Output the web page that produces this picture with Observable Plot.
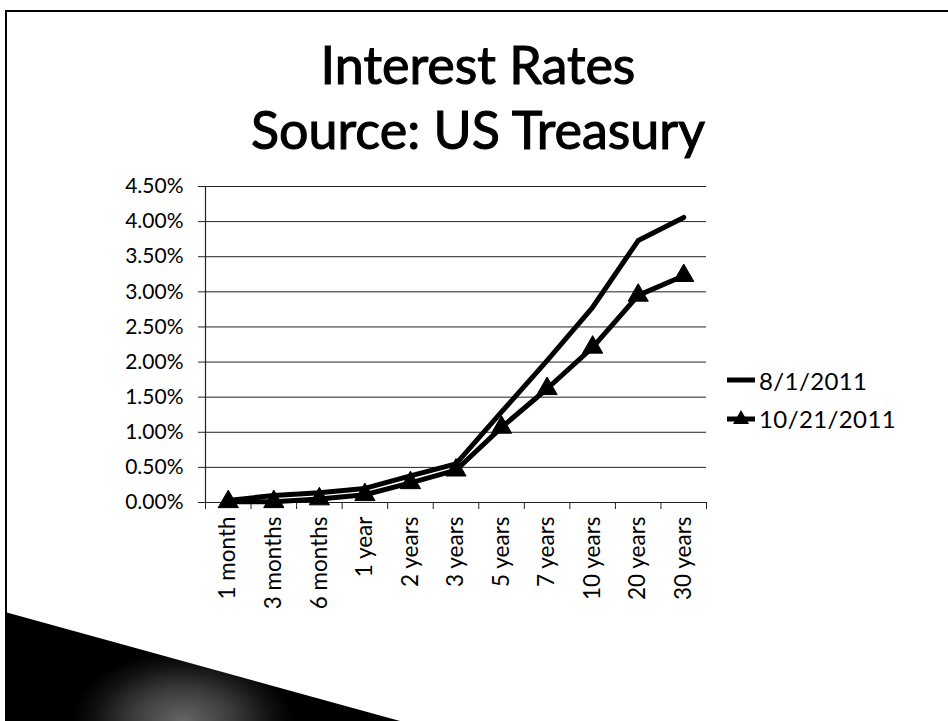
<!DOCTYPE html>
<html>
<head>
<meta charset="utf-8">
<script src="https://cdn.jsdelivr.net/npm/d3@7"></script>
<script src="https://cdn.jsdelivr.net/npm/@observablehq/plot@0.6"></script>
<style>
  html, body { margin: 0; padding: 0; background: #fff; }
  #page { position: relative; width: 948px; height: 721px; overflow: hidden; font-family: Lato, "Open Sans", sans-serif; color: #000; }
  #frame { position: absolute; left: 5px; top: 10px; right: -4px; bottom: -4px; border-top: 2px solid #000; border-left: 2px solid #000; }
  .title { position: absolute; left: 0; width: 956px; text-align: center; font-size: 52px; line-height: 60px; font-weight: 400; -webkit-text-stroke: 1.1px #000; }
  #chart { position: absolute; left: 0; top: 160px; }
  #legend { position: absolute; left: 725px; top: 361px; font-size: 24px; letter-spacing: 0.4px; }
  #legend .item { display: flex; align-items: center; height: 38px; }
  #legend svg { margin-right: 2px; }
  #wedge { position: absolute; left: 5px; top: 612px; width: 395px; height: 109px;
    clip-path: polygon(0 0, 100% 100%, 0 100%);
    background: radial-gradient(ellipse 110px 70px at 45% 100%, #666 0%, #3c3c3c 45%, #111 80%, #000 100%); }
</style>
</head>
<body>
<div id="page">
  <div id="frame"></div>
  <div class="title" style="top:34px">Interest Rates</div>
  <div class="title" style="top:99px">Source: US Treasury</div>
  <div id="chart"></div>
  <div id="legend"></div>
  <div id="wedge"></div>
</div>
<script>
// Maturities (categories)
const categories = ["1 month", "3 months", "6 months", "1 year", "2 years", "3 years", "5 years", "7 years", "10 years", "20 years", "30 years"];
// Series names
const seriesNames = ["8/1/2011", "10/21/2011"];
// Yields in percent
const rates_2011_08_01 = [0.03, 0.10, 0.14, 0.20, 0.38, 0.55, 1.29, 2.02, 2.78, 3.73, 4.06];
const rates_2011_10_21 = [0.01, 0.01, 0.05, 0.11, 0.28, 0.46, 1.07, 1.62, 2.21, 2.95, 3.23];
// Y tick values (percent)
const yTicks = [0, 0.5, 1, 1.5, 2, 2.5, 3, 3.5, 4, 4.5];

const idx = d3.range(categories.length);
const boundaries = d3.range(categories.length + 1).map(i => i - 0.5);
const rows = [
  ...idx.map(i => ({i, cat: categories[i], value: rates_2011_08_01[i], series: seriesNames[0]})),
  ...idx.map(i => ({i, cat: categories[i], value: rates_2011_10_21[i], series: seriesNames[1]}))
];
const s1 = rows.filter(d => d.series === seriesNames[0]);
const s2 = rows.filter(d => d.series === seriesNames[1]);

const chart = Plot.plot({
  width: 948,
  height: 500,
  marginLeft: 205,
  marginRight: 242,
  marginTop: 26,
  marginBottom: 158,
  style: {fontFamily: "Lato, 'Open Sans', sans-serif", fontSize: "21px", color: "#000", background: "transparent", overflow: "visible"},
  x: {type: "linear", domain: [-0.5, categories.length - 0.5], label: null},
  y: {domain: [0, 4.5], label: null},
  marks: [
    Plot.gridY(yTicks, {stroke: "#222", strokeOpacity: 1, strokeWidth: 1}),
    Plot.axisY({ticks: yTicks, tickSize: 7, tickPadding: 15, stroke: "#222", strokeWidth: 1,
      tickFormat: d => d.toFixed(2) + "%", fontSize: 21, label: null}),
    Plot.axisX({ticks: boundaries, tickSize: 7, tickFormat: () => "", stroke: "#222", label: null}),
    Plot.axisX({ticks: idx, tickSize: 0, tickPadding: 14, tickRotate: -90,
      tickFormat: i => categories[i], fontSize: 22.5, label: null}),
    Plot.ruleX([-0.5], {stroke: "#222", strokeWidth: 1.2}),
    Plot.ruleY([0], {stroke: "#222", strokeWidth: 1.2}),
    Plot.line(s1, {x: "i", y: "value", stroke: "#000", strokeWidth: 5, strokeLinejoin: "round", strokeLinecap: "round"}),
    Plot.line(s2, {x: "i", y: "value", stroke: "#000", strokeWidth: 5, strokeLinejoin: "round", strokeLinecap: "round"}),
    Plot.dot(s2, {x: "i", y: "value", symbol: "triangle", r: 7.5, fill: "#000", stroke: "#000", strokeWidth: 1})
  ]
});
document.getElementById("chart").appendChild(chart);

// Legend
const legend = document.getElementById("legend");
seriesNames.forEach((name, k) => {
  const item = document.createElement("div");
  item.className = "item";
  const marker = k === 1
    ? '<svg width="32" height="20"><line x1="2" y1="11" x2="30" y2="11" stroke="#000" stroke-width="5"/><path d="M16,2 L24,16 L8,16 Z" fill="#000"/></svg>'
    : '<svg width="32" height="20"><line x1="2" y1="10" x2="30" y2="10" stroke="#000" stroke-width="5"/></svg>';
  item.innerHTML = marker + '<span>' + name + '</span>';
  legend.appendChild(item);
});
</script>
</body>
</html>
